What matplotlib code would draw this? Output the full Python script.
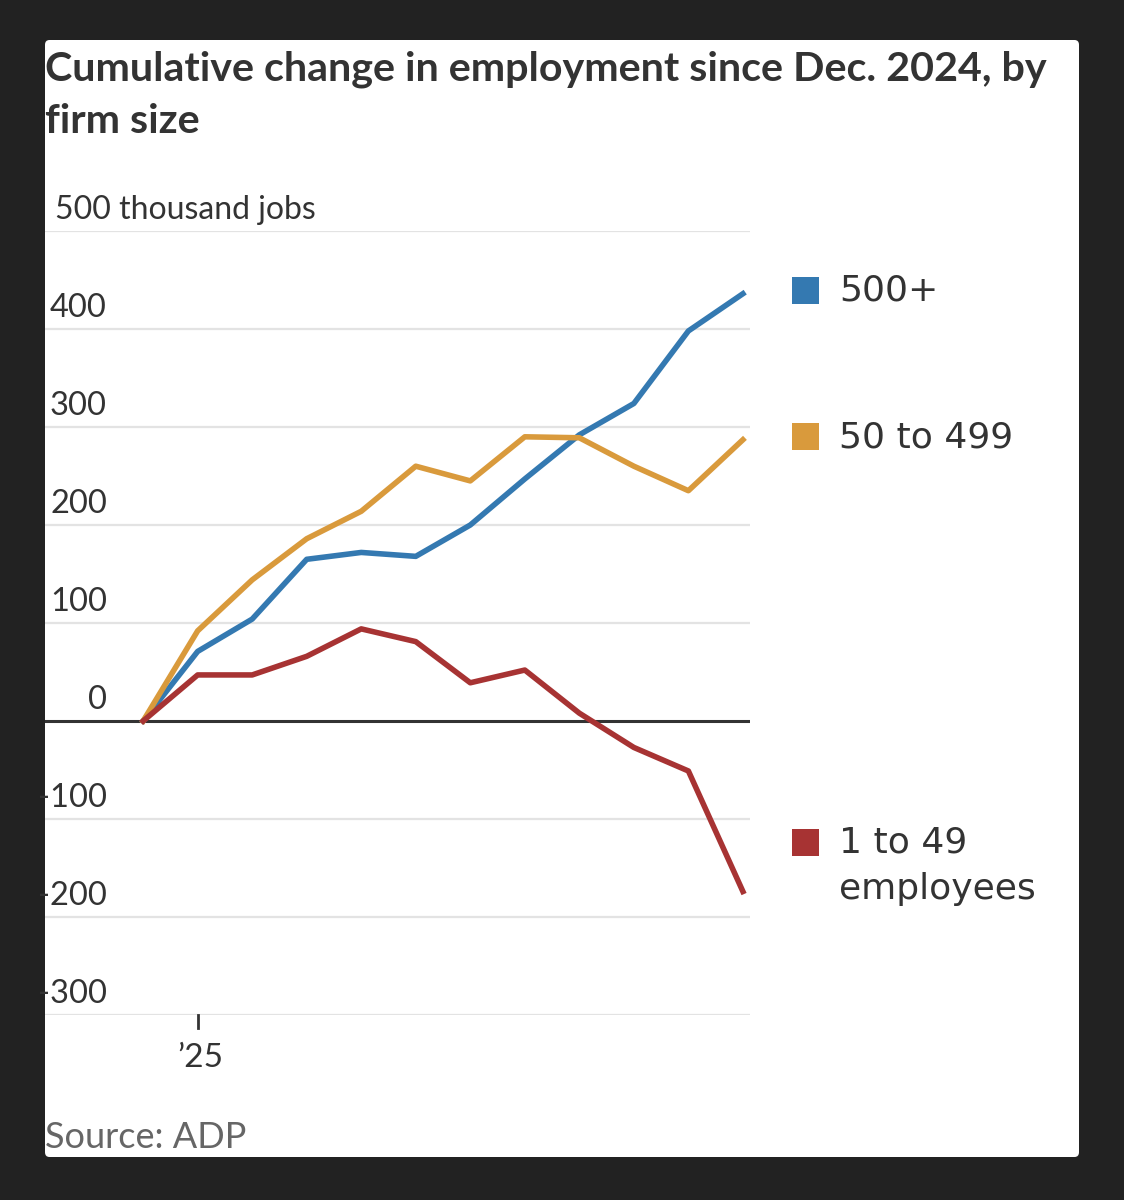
import matplotlib.pyplot as plt
from matplotlib.patches import FancyBboxPatch

# monthly points, Dec 2024 .. Nov 2025 (thousand jobs)
months = ['Dec', 'Jan', 'Feb', 'Mar', 'Apr', 'May', 'Jun', 'Jul', 'Aug', 'Sep', 'Oct', 'Nov']
large = [0, 71, 104, 165, 172, 168, 200, 247, 292, 324, 398, 436]
medium = [0, 92, 144, 186, 214, 260, 245, 290, 289, 260, 235, 287]
small = [0, 47, 47, 66, 94, 81, 39, 52, 8, -27, -51, -174]
series_names = ['500+', '50 to 499', '1 to 49\nemployees']
colors = ['#3479b1', '#d99a3c', '#a73333']
yticks = [400, 300, 200, 100, 0, -100, -200, -300]

LABEL_FONT = ['Lato', 'DejaVu Sans']
W, H = 1124, 1200

fig = plt.figure(figsize=(W / 100, H / 100), dpi=100, facecolor='#222222')

def fx(px):
    return px / W

def fy(py):
    return 1 - py / H

# white card behind everything
card = FancyBboxPatch((fx(45), fy(1157)), fx(1079) - fx(45), fy(40) - fy(1157),
                      boxstyle='round,pad=0,rounding_size=0.004',
                      transform=fig.transFigure, facecolor='white', edgecolor='none', zorder=-5)
fig.patches.append(card)

ax_left, ax_right = 45, 750
ax = fig.add_axes([fx(ax_left), fy(1015), fx(ax_right) - fx(ax_left), fy(231) - fy(1015)])
ax.patch.set_alpha(0)
x = list(range(len(months)))
ax.set_xlim(-1.8, 11.13)
ax.set_ylim(-300, 500)

for v in [500] + yticks:
    if v == 0:
        ax.axhline(v, color='#333333', lw=2.2, zorder=3)
    else:
        ax.axhline(v, color='#e3e3e3', lw=1.6, zorder=1)

for vals, c in zip([large, medium, small], colors):
    ax.plot(x, vals, color=c, lw=4, zorder=4)

ax.set_xticks([])
ax.set_yticks([])
for s in ax.spines.values():
    s.set_visible(False)

# y labels sit just above their gridlines
trans = ax.get_yaxis_transform()
span = ax_right - ax_left
for v in yticks:
    ax.annotate(str(v), xy=((107 - ax_left) / span, v),
                xycoords=trans, xytext=(0, 6), textcoords='offset pixels',
                ha='right', va='bottom', fontsize=23.5, color='#333333', family=LABEL_FONT)
ax.annotate('500 thousand jobs', xy=((55 - ax_left) / span, 500),
            xycoords=trans, xytext=(0, 6), textcoords='offset pixels',
            ha='left', va='bottom', fontsize=23, color='#333333', family=LABEL_FONT)

# x tick for '25
ax.plot([1, 1], [-300, -313], color='#333333', lw=2, clip_on=False)
fig.text(fx(200), fy(1058), '\u201925', ha='center', va='center',
         fontsize=24, color='#333333', family=LABEL_FONT)

# legend squares at the right
legend_y = [291, 437, 843]
for name, c, ly in zip(series_names, colors, legend_y):
    fig.patches.append(plt.Rectangle((fx(792), fy(ly + 13)), fx(27), 27 / H,
                                     transform=fig.transFigure, facecolor=c, edgecolor='none'))
    ty = ly + 23 if '\n' in name else ly
    fig.text(fx(839), fy(ty), name, ha='left', va='center',
             fontsize=26, color='#333333', linespacing=1.45)

# title and source
fig.text(fx(45), fy(50), 'Cumulative change in employment since Dec. 2024, by\nfirm size',
         ha='left', va='top', fontsize=29.7, fontweight='bold', color='#333333',
         family=['Lato', 'DejaVu Sans'], linespacing=1.52)
fig.text(fx(45), fy(1137), 'Source: ADP', ha='left', va='center',
         fontsize=26, color='#666666', family=LABEL_FONT)

fig.savefig('out.png', dpi=100, facecolor=fig.get_facecolor())
